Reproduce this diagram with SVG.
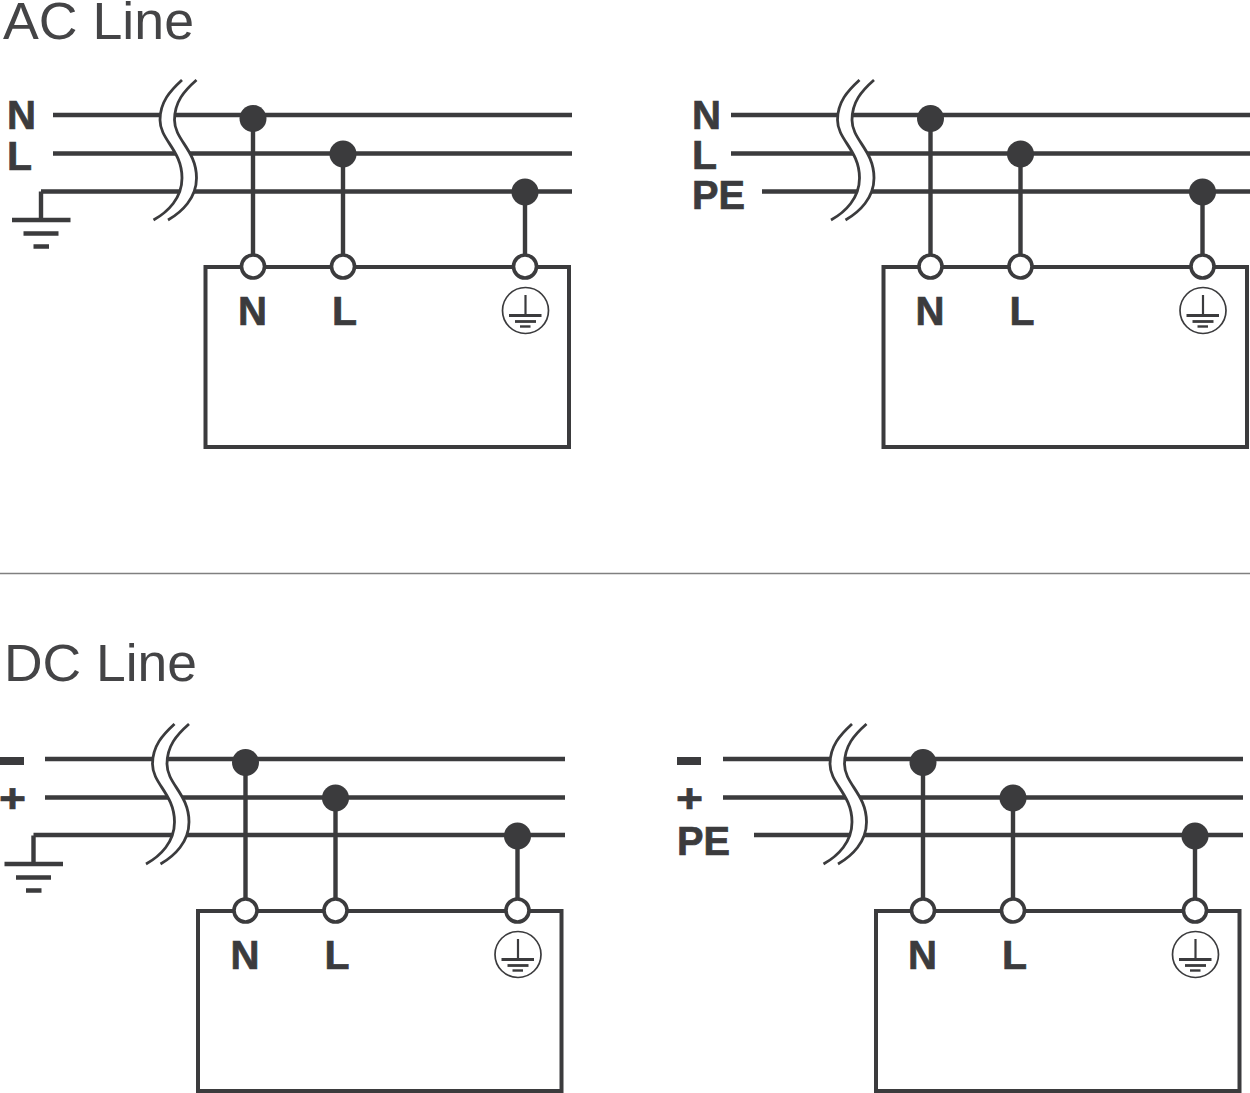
<svg xmlns="http://www.w3.org/2000/svg" width="1250" height="1093" viewBox="0 0 1250 1093">
<style>
.w{stroke:#3b3b3d;stroke-width:4.4;fill:none}
.b{stroke:#3b3b3d;stroke-width:4;fill:none}
.c{stroke:#3b3b3d;stroke-width:2.800;fill:none}
.d{fill:#3b3b3d}
.o{fill:#fff;stroke:#3b3b3d;stroke-width:3.6}
.t{font-family:"Liberation Sans",Arial,sans-serif;font-size:51px;fill:#444446}
.l{font-family:"Liberation Sans",Arial,sans-serif;font-size:40px;font-weight:700;fill:#3b3b3d;stroke:#3b3b3d;stroke-width:.7}
.e{stroke:#3b3b3d;fill:none}
</style>
<defs>
<g id="brk">
<path d="M182 80C170 91 160 102 160 120C160 140 182 150 182 178C182 198 168 212 153.500 220L168 220C182 212 196.500 198 196.500 178C196.500 150 174.500 140 174.500 120C174.500 102 184 91 196.500 80Z" fill="#fff"/>
<path class="c" d="M182 80C170 91 160 102 160 120C160 140 182 150 182 178C182 198 168 212 153.500 220"/>
<path class="c" d="M196.500 80C184 91 174.500 102 174.500 120C174.500 140 196.500 150 196.500 178C196.500 198 182 212 168 220"/>
</g>
<g id="gnd">
<path class="w" d="M41 191.500V220M12 220H70.500"/>
<path class="w" d="M23.500 233.500H58.500M33.500 246.500H49"/>
</g>
<g id="pe">
<circle class="e" stroke-width="1.700" cx="525.500" cy="310.500" r="23"/>
<path class="e" stroke-width="2.200" d="M525.500 295V315.500"/>
<path class="e" stroke-width="3" d="M509 315.500H541.500"/>
<path class="e" stroke-width="2.800" d="M515 321.500H536"/>
<path class="e" stroke-width="2.400" d="M520 326.500H530.500"/>
</g>
</defs>
<rect width="1250" height="1093" fill="#fff"/>
<text id="title-ac" class="t" x="3" y="39" textLength="191" lengthAdjust="spacingAndGlyphs">AC Line</text>
<text id="title-dc" class="t" x="4" y="681" textLength="193" lengthAdjust="spacingAndGlyphs">DC Line</text>
<g id="connectors">
<path stroke="#808080" stroke-width="1.500" fill="none" d="M0 573.500H1250"/>
<path class="w" d="M53 115H572M53 153.500H572M41 191.500H572M253 118V255M343 154V255M525 192V255"/>
<path class="w" d="M731 115H1250M731 153.500H1250M762 191.500H1250M930.500 118V255M1020.500 154V255M1202.500 192V255"/>
<path class="w" d="M45 759H565M45 797.500H565M33.500 835H565M245.500 762V899M335.500 798V899M517.500 836V899"/>
<path class="w" d="M723 759H1243M723 797.500H1243M754 835H1243M923 762V899M1013 798V899M1195 836V899"/>
<use href="#brk"/>
<use href="#brk" x="677.500"/>
<use href="#brk" x="-7.500" y="644"/>
<use href="#brk" x="670" y="644"/>
<use href="#gnd"/>
<use href="#gnd" x="-7.500" y="644"/>
</g>
<g id="labels-ac-left">
<text class="l" x="7" y="129" textLength="29" lengthAdjust="spacingAndGlyphs">N</text>
<text class="l" x="7" y="170" textLength="25" lengthAdjust="spacingAndGlyphs">L</text>
</g>
<g id="labels-ac-right">
<text class="l" x="692" y="129" textLength="29" lengthAdjust="spacingAndGlyphs">N</text>
<text class="l" x="692" y="169" textLength="25" lengthAdjust="spacingAndGlyphs">L</text>
<text class="l" x="692" y="209" textLength="53" lengthAdjust="spacingAndGlyphs">PE</text>
</g>
<g id="labels-dc-left">
<path class="d" d="M0 757H24V765H0Z"/>
<text class="l" x="-1" y="812" textLength="27" lengthAdjust="spacingAndGlyphs">+</text>
</g>
<g id="labels-dc-right">
<path class="d" d="M677 757H701V765H677Z"/>
<text class="l" x="676" y="812" textLength="27" lengthAdjust="spacingAndGlyphs">+</text>
<text class="l" x="677" y="855" textLength="53" lengthAdjust="spacingAndGlyphs">PE</text>
</g>
<g id="node-ac-left">
<rect class="b" x="205.500" y="267" width="363.500" height="180"/>
<circle class="d" cx="253" cy="118.500" r="13.500"/><circle class="d" cx="343" cy="154" r="13.500"/><circle class="d" cx="525" cy="192" r="13.500"/>
<circle class="o" cx="253" cy="266.500" r="11.500"/><circle class="o" cx="343" cy="266.500" r="11.500"/><circle class="o" cx="525" cy="266.500" r="11.500"/>
<text class="l" x="238" y="325" textLength="29" lengthAdjust="spacingAndGlyphs">N</text>
<text class="l" x="332" y="325" textLength="25" lengthAdjust="spacingAndGlyphs">L</text>
<use href="#pe"/>
</g>
<g id="node-ac-right">
<rect class="b" x="883.500" y="267" width="363.500" height="180"/>
<circle class="d" cx="930.500" cy="118.500" r="13.500"/><circle class="d" cx="1020.500" cy="154" r="13.500"/><circle class="d" cx="1202.500" cy="192" r="13.500"/>
<circle class="o" cx="930.500" cy="266.500" r="11.500"/><circle class="o" cx="1020.500" cy="266.500" r="11.500"/><circle class="o" cx="1202.500" cy="266.500" r="11.500"/>
<text class="l" x="915.500" y="325" textLength="29" lengthAdjust="spacingAndGlyphs">N</text>
<text class="l" x="1009.500" y="325" textLength="25" lengthAdjust="spacingAndGlyphs">L</text>
<use href="#pe" x="677.500"/>
</g>
<g id="node-dc-left">
<rect class="b" x="198" y="911" width="363.500" height="180"/>
<circle class="d" cx="245.500" cy="762.500" r="13.500"/><circle class="d" cx="335.500" cy="798" r="13.500"/><circle class="d" cx="517.500" cy="836" r="13.500"/>
<circle class="o" cx="245.500" cy="910.500" r="11.500"/><circle class="o" cx="335.500" cy="910.500" r="11.500"/><circle class="o" cx="517.500" cy="910.500" r="11.500"/>
<text class="l" x="230.500" y="969" textLength="29" lengthAdjust="spacingAndGlyphs">N</text>
<text class="l" x="324.500" y="969" textLength="25" lengthAdjust="spacingAndGlyphs">L</text>
<use href="#pe" x="-7.500" y="644"/>
</g>
<g id="node-dc-right">
<rect class="b" x="876" y="911" width="363.500" height="180"/>
<circle class="d" cx="923" cy="762.500" r="13.500"/><circle class="d" cx="1013" cy="798" r="13.500"/><circle class="d" cx="1195" cy="836" r="13.500"/>
<circle class="o" cx="923" cy="910.500" r="11.500"/><circle class="o" cx="1013" cy="910.500" r="11.500"/><circle class="o" cx="1195" cy="910.500" r="11.500"/>
<text class="l" x="908" y="969" textLength="29" lengthAdjust="spacingAndGlyphs">N</text>
<text class="l" x="1002" y="969" textLength="25" lengthAdjust="spacingAndGlyphs">L</text>
<use href="#pe" x="670" y="644"/>
</g>
</svg>
